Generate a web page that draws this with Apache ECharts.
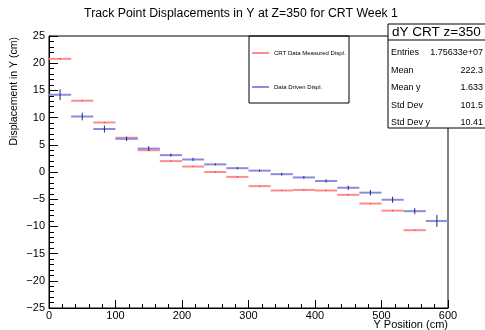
<!DOCTYPE html>
<html>
<head>
<meta charset="utf-8">
<script src="https://cdn.jsdelivr.net/npm/echarts@6/dist/echarts.min.js"></script>
<style>
  html, body { margin: 0; padding: 0; background: #fff; }
  #chart { width: 485px; height: 330px; }
</style>
</head>
<body>
<div id="chart"></div>
<script>
// bin centres (18 bins of width 600/18)
const binWidth = 600 / 18;
const binCenters = [16.7, 50, 83.3, 116.7, 150, 183.3, 216.7, 250, 283.3, 316.7, 350, 383.3, 416.7, 450, 483.3, 516.7, 550, 583.3];
// CRT data measured displacement (last bin empty)
const crtValues = [20.8, 13.1, 9.1, 6.3, 4.0, 2.0, 1.0, 0.0, -0.9, -2.6, -3.4, -3.3, -3.4, -4.2, -5.8, -7.1, -10.7, null];
const crtErrors = [0.1, 0.1, 0.1, 0.1, 0.1, 0.1, 0.1, 0.1, 0.1, 0.1, 0.1, 0.1, 0.1, 0.1, 0.1, 0.1, 0.1, 0];
// data driven displacement
const ddValues = [14.2, 10.2, 7.9, 6.1, 4.3, 3.1, 2.3, 1.4, 0.7, 0.25, -0.4, -1.0, -1.65, -2.9, -3.8, -5.1, -7.2, -9.0];
const ddErrors = [1.0, 0.7, 0.65, 0.4, 0.45, 0.3, 0.3, 0.2, 0.2, 0.2, 0.25, 0.25, 0.3, 0.4, 0.5, 0.55, 0.55, 1.1];
// stats box
const statNames = ["Entries", "Mean", "Mean y", "Std Dev", "Std Dev y"];
const statValues = ["1.75633e+07", "222.3", "1.633", "101.5", "10.41"];

const font = "Liberation Sans, Arial, Helvetica, sans-serif";

function toData(vals, errs) {
  const out = [];
  vals.forEach((v, i) => {
    if (v !== null) out.push([binCenters[i], v, errs[i]]);
  });
  return out;
}

// horizontal bin line + vertical error bar
function makeRender(lineColor, barColor) {
  return function (params, api) {
    const x = api.value(0), y = api.value(1), e = api.value(2);
    const c = api.coord([x, y]);
    const half = api.size([binWidth, 0])[0] / 2;
    const top = api.coord([x, y + e]);
    const bot = api.coord([x, y - e]);
    return {
      type: "group",
      children: [
        { type: "line", shape: { x1: c[0] - half, y1: c[1], x2: c[0] + half, y2: c[1] },
          style: { stroke: lineColor, lineWidth: 2 } },
        { type: "line", shape: { x1: c[0], y1: top[1], x2: c[0], y2: bot[1] },
          style: { stroke: barColor, lineWidth: 1 } }
      ]
    };
  };
}

const chart = echarts.init(document.getElementById("chart"));

const statsGraphics = [];
statsGraphics.push({ type: "rect", shape: { x: 388, y: 24, width: 110, height: 104 },
  style: { fill: "#fff", stroke: "#000", lineWidth: 1 }, z: 100 });
statsGraphics.push({ type: "line", shape: { x1: 388, y1: 40, x2: 485, y2: 40 },
  style: { stroke: "#000", lineWidth: 1 }, z: 101 });
statsGraphics.push({ type: "text", x: 392, y: 32, z: 101,
  style: { text: "dY CRT z=350", font: "13.5px " + font, fill: "#000", verticalAlign: "middle" } });
statNames.forEach((n, i) => {
  const yy = 53 + i * 17.4;
  statsGraphics.push({ type: "text", x: 391, y: yy, z: 101,
    style: { text: n, font: "9px " + font, fill: "#000", verticalAlign: "middle" } });
  statsGraphics.push({ type: "text", x: 483, y: yy, z: 101,
    style: { text: statValues[i], font: "9px " + font, fill: "#000", align: "right", verticalAlign: "middle" } });
});

const option = {
  animation: false,
  textStyle: { fontFamily: font },
  grid: {
    left: 49, right: 37, top: 36, bottom: 22,
    show: true, borderColor: "#000", borderWidth: 1, backgroundColor: "transparent"
  },
  legend: {
    orient: "vertical",
    left: 252, top: 50, padding: 0,
    itemWidth: 17, itemHeight: 2, itemGap: 28,
    icon: "rect",
    textStyle: { fontSize: 6, color: "#000" },
    data: ["CRT Data Measured Displ.", "Data Driven Displ."]
  },
  xAxis: {
    type: "value", min: 0, max: 600, interval: 100,
    axisLine: { onZero: false, lineStyle: { color: "#000" } },
    axisTick: { inside: true, length: 8, lineStyle: { color: "#000" } },
    minorTick: { show: true, splitNumber: 5, length: 4, lineStyle: { color: "#000" } },
    splitLine: { show: false },
    axisLabel: { color: "#000", fontSize: 11, margin: 2 }
  },
  yAxis: {
    type: "value", min: -25, max: 25, interval: 5,
    axisLine: { show: true, onZero: false, lineStyle: { color: "#000" } },
    axisTick: { show: true, inside: true, length: 9, lineStyle: { color: "#000" } },
    minorTick: { show: true, splitNumber: 5, length: 5, lineStyle: { color: "#000" } },
    splitLine: { show: false },
    axisLabel: { color: "#000", fontSize: 11, margin: 4,
      formatter: v => String(v).replace("-", "\u2212") }
  },
  series: [
    {
      name: "CRT Data Measured Displ.", type: "custom",
      itemStyle: { color: "#ff8c8c" },
      renderItem: makeRender("#ff8c8c", "#b03030"),
      data: toData(crtValues, crtErrors)
    },
    {
      name: "Data Driven Displ.", type: "custom",
      itemStyle: { color: "#8c8cdc" },
      renderItem: makeRender("#8c8cdc", "#202090"),
      data: toData(ddValues, ddErrors)
    }
  ],
  graphic: [
    { type: "text", x: 241, y: 14,
      style: { text: "Track Point Displacements in Y at Z=350 for CRT Week 1",
        font: "12.3px " + font, fill: "#000", align: "center", verticalAlign: "middle" } },
    { type: "text", x: 14, y: 37, rotation: Math.PI / 2,
      style: { text: "Displacement in Y (cm)", font: "10.5px " + font, fill: "#000",
        align: "right", verticalAlign: "middle" } },
    { type: "text", x: 448, y: 325,
      style: { text: "Y Position (cm)", font: "11px " + font, fill: "#000",
        align: "right", verticalAlign: "middle" } },
    { type: "rect", shape: { x: 249, y: 36, width: 100, height: 67 },
      style: { fill: "#fff", stroke: "#000", lineWidth: 1 }, z: -1 }
  ].concat(statsGraphics)
};

chart.setOption(option);
</script>
</body>
</html>
